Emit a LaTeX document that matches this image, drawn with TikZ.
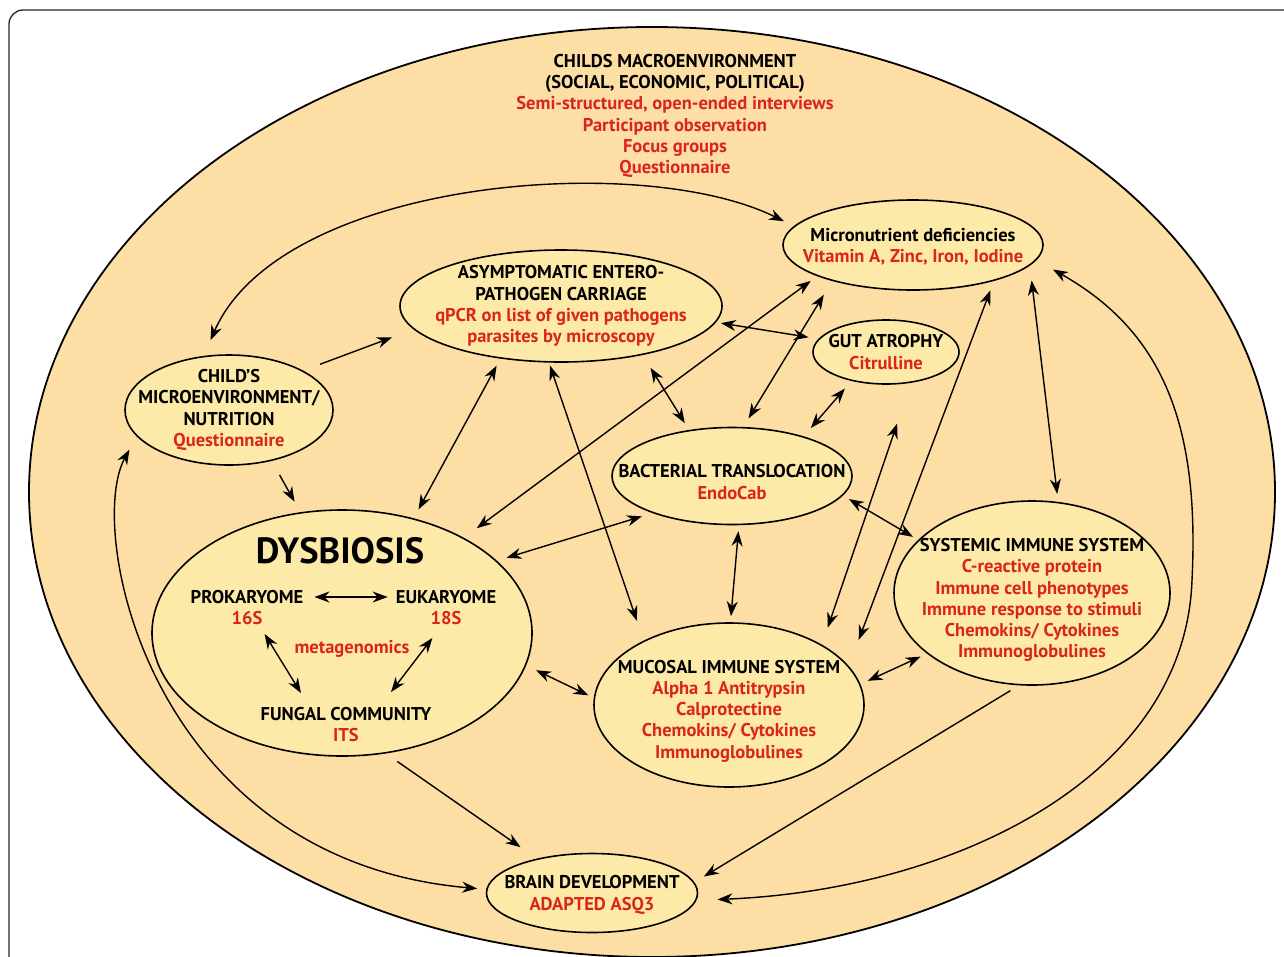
\documentclass[tikz,border=0pt]{standalone}
\usepackage{fontspec}
\setmainfont{PT Sans}
\usetikzlibrary{arrows.meta,shapes.geometric}

\definecolor{peach}{RGB}{253,223,166}
\definecolor{cream}{RGB}{254,234,168}
\definecolor{method}{RGB}{217,37,29}

\newcommand\methtext[1]{\textcolor{method}{#1}}

\tikzset{
	area/.style={ellipse, draw, line width=1.6pt, fill=cream, inner sep=0pt},
	txt/.style={align=center, inner sep=0pt, font=\bfseries\fontsize{18.5}{21.3}\selectfont},
	link/.style={-{Stealth[length=15pt,width=11pt]}, line width=1.4pt},
	dlink/.style={{Stealth[length=15pt,width=11pt]}-{Stealth[length=15pt,width=11pt]}, line width=1.4pt},
}

\begin{document}
\begin{tikzpicture}[x=1pt, y=-1pt]
		\useasboundingbox (0,0) rectangle (1284,956);
		\clip (0,0) rectangle (1284,956);
		
		\draw[line width=1.3pt, draw=black!85, rounded corners=14pt] (9,10) rectangle (1310,990);
		\draw[line width=1.8pt, fill=peach] (652,492) ellipse [x radius=623, y radius=465];
		
		\node[txt] (macro) at (675,116) {CHILDS MACROENVIRONMENT\\(SOCIAL, ECONOMIC, POLITICAL)\\\methtext{Semi-structured, open-ended interviews}\\\methtext{Participant observation}\\\methtext{Focus groups}\\\methtext{Questionnaire}};
		
		\node[area, minimum width=260pt, minimum height=90pt] (micro) at (913,245) {};
		\node[txt] (tmicro) at (913,247) {Micronutrient deficiencies\\\methtext{Vitamin A, Zinc, Iron, Iodine}};
		
		\node[area, minimum width=322pt, minimum height=112pt] (asym) at (561,306) {};
		\node[txt] (tasym) at (asym) {ASYMPTOMATIC ENTERO-\\PATHOGEN CARRIAGE\\\methtext{qPCR on list of given pathogens}\\\methtext{parasites by microscopy}};
		
		\node[area, minimum width=146pt, minimum height=64pt] (gut) at (886,352) {};
		\node[txt] (tgut) at (gut) {GUT ATROPHY\\\methtext{Citrulline}};
		
		\node[area, minimum width=208pt, minimum height=110pt] (child) at (229,410) {};
		\node[txt] (tchild) at (child) {CHILD’S\\MICROENVIRONMENT/\\NUTRITION\\\methtext{Questionnaire}};
		
		\node[area, minimum width=240pt, minimum height=97pt] (bact) at (732,476) {};
		\node[txt] (tbact) at (732,482) {BACTERIAL TRANSLOCATION\\\methtext{EndoCab}};
		
		\node[area, minimum width=380pt, minimum height=246pt] (dys) at (342,633) {};
		\node[txt, font=\bfseries\fontsize{36.5}{40}\selectfont] (dystitle) at (340,551) {DYSBIOSIS};
		\node[txt] (prok) at (247,597) {PROKARYOME};
		\node[txt, text=method] (p16) at (247,618) {16S};
		\node[txt] (euk) at (446,597) {EUKARYOME};
		\node[txt, text=method] (e18) at (446,618) {18S};
		\node[txt, text=method] (meta) at (352,649) {metagenomics};
		\node[txt] (fungal) at (346,714) {FUNGAL COMMUNITY};
		\node[txt, text=method] (its) at (346,735) {ITS};
		
		\node[area, minimum width=276pt, minimum height=184pt] (sys) at (1032,593) {};
		\node[txt] (tsys) at (1032,600) {SYSTEMIC IMMUNE SYSTEM\\\methtext{C-reactive protein}\\\methtext{Immune cell phenotypes}\\\methtext{Immune response to stimuli}\\\methtext{Chemokins/ Cytokines}\\\methtext{Immunoglobulines}};
		
		\node[area, minimum width=270pt, minimum height=164pt] (muc) at (729,705) {};
		\node[txt] (tmuc) at (729,711) {MUCOSAL IMMUNE SYSTEM\\\methtext{Alpha 1 Antitrypsin}\\\methtext{Calprotectine}\\\methtext{Chemokins/ Cytokines}\\\methtext{Immunoglobulines}};
		
		\node[area, minimum width=211pt, minimum height=79pt] (brain) at (592,893) {};
		\node[txt] (tbrain) at (592,895) {BRAIN DEVELOPMENT\\\methtext{ADAPTED ASQ3}};
		
		\draw[dlink, shorten <=11pt, shorten >=8pt] (prok.east) -- (euk.west);
		\draw[dlink] ([xshift=2pt,yshift=-9pt]p16.south east) -- ([xshift=-45pt,yshift=14pt]fungal.north);
		\draw[dlink] ([xshift=2pt,yshift=-13pt]e18.south west) -- ([xshift=45pt,yshift=15pt]fungal.north);
		
		\draw[link, shorten <=18pt, shorten >=23pt] (child.28) -- (asym.189);
		\draw[link, shorten <=16pt, shorten >=12pt] (child.-50) -- (dys.109);
		\draw[dlink, shorten <=10pt, shorten >=8pt] (dys.58) -- (asym.221);
		\draw[dlink, shorten <=16pt, shorten >=8pt] (dys.38) -- (micro.198);
		\draw[dlink, shorten <=10pt, shorten >=11pt] (dys.25) -- (bact.205);
		\draw[dlink, shorten <=11pt, shorten >=6pt] (dys.-10) -- (muc.177);
		\draw[link, shorten <=14pt, shorten >=20pt] (dys.-70) -- (brain.148);
		\draw[dlink, shorten <=3pt, shorten >=21pt] (asym.258) -- (muc.143);
		\draw[dlink, shorten <=15pt, shorten >=8pt] (asym.-31) -- (bact.133);
		\draw[dlink, shorten <=5pt, shorten >=10pt] (asym.-6) -- (gut.169);
		\draw[dlink, shorten <=10pt, shorten >=16pt] (bact.77) -- (micro.204);
		\draw[dlink, shorten <=11pt, shorten >=10pt] (bact.29) -- (gut.220);
		\draw[dlink, shorten <=6pt, shorten >=6pt] (bact.-82) -- (muc.89);
		\draw[dlink, shorten <=7pt, shorten >=6pt] (bact.-10) -- (sys.155);
		\draw[dlink, shorten <=18pt, shorten >=43pt] (muc.33) -- (gut.-51);
		\draw[dlink, shorten <=28pt, shorten >=10pt] (muc.18) -- (micro.-24);
		\draw[dlink, shorten <=8pt, shorten >=7pt] (muc.9) -- (sys.210);
		\draw[dlink, shorten <=8pt, shorten >=15pt] (sys.74) -- (micro.-10);
		\draw[link, shorten <=10pt, shorten >=11pt] (sys.-98) -- (brain.6);
		
		\draw[dlink, shorten <=17pt, shorten >=11pt] (child.115) .. controls (280,180) and (640,150) .. (micro.171);
		\draw[dlink, shorten <=15pt, shorten >=9pt] (child.196) .. controls (85,530) and (150,860) .. (brain.178);
		\draw[dlink, shorten <=21pt, shorten >=19pt] (brain.-4) .. controls (950,890) and (1185,780) .. (1192,580) .. controls (1200,420) and (1160,330) .. (micro.-7);
	\end{tikzpicture}
\end{document}
